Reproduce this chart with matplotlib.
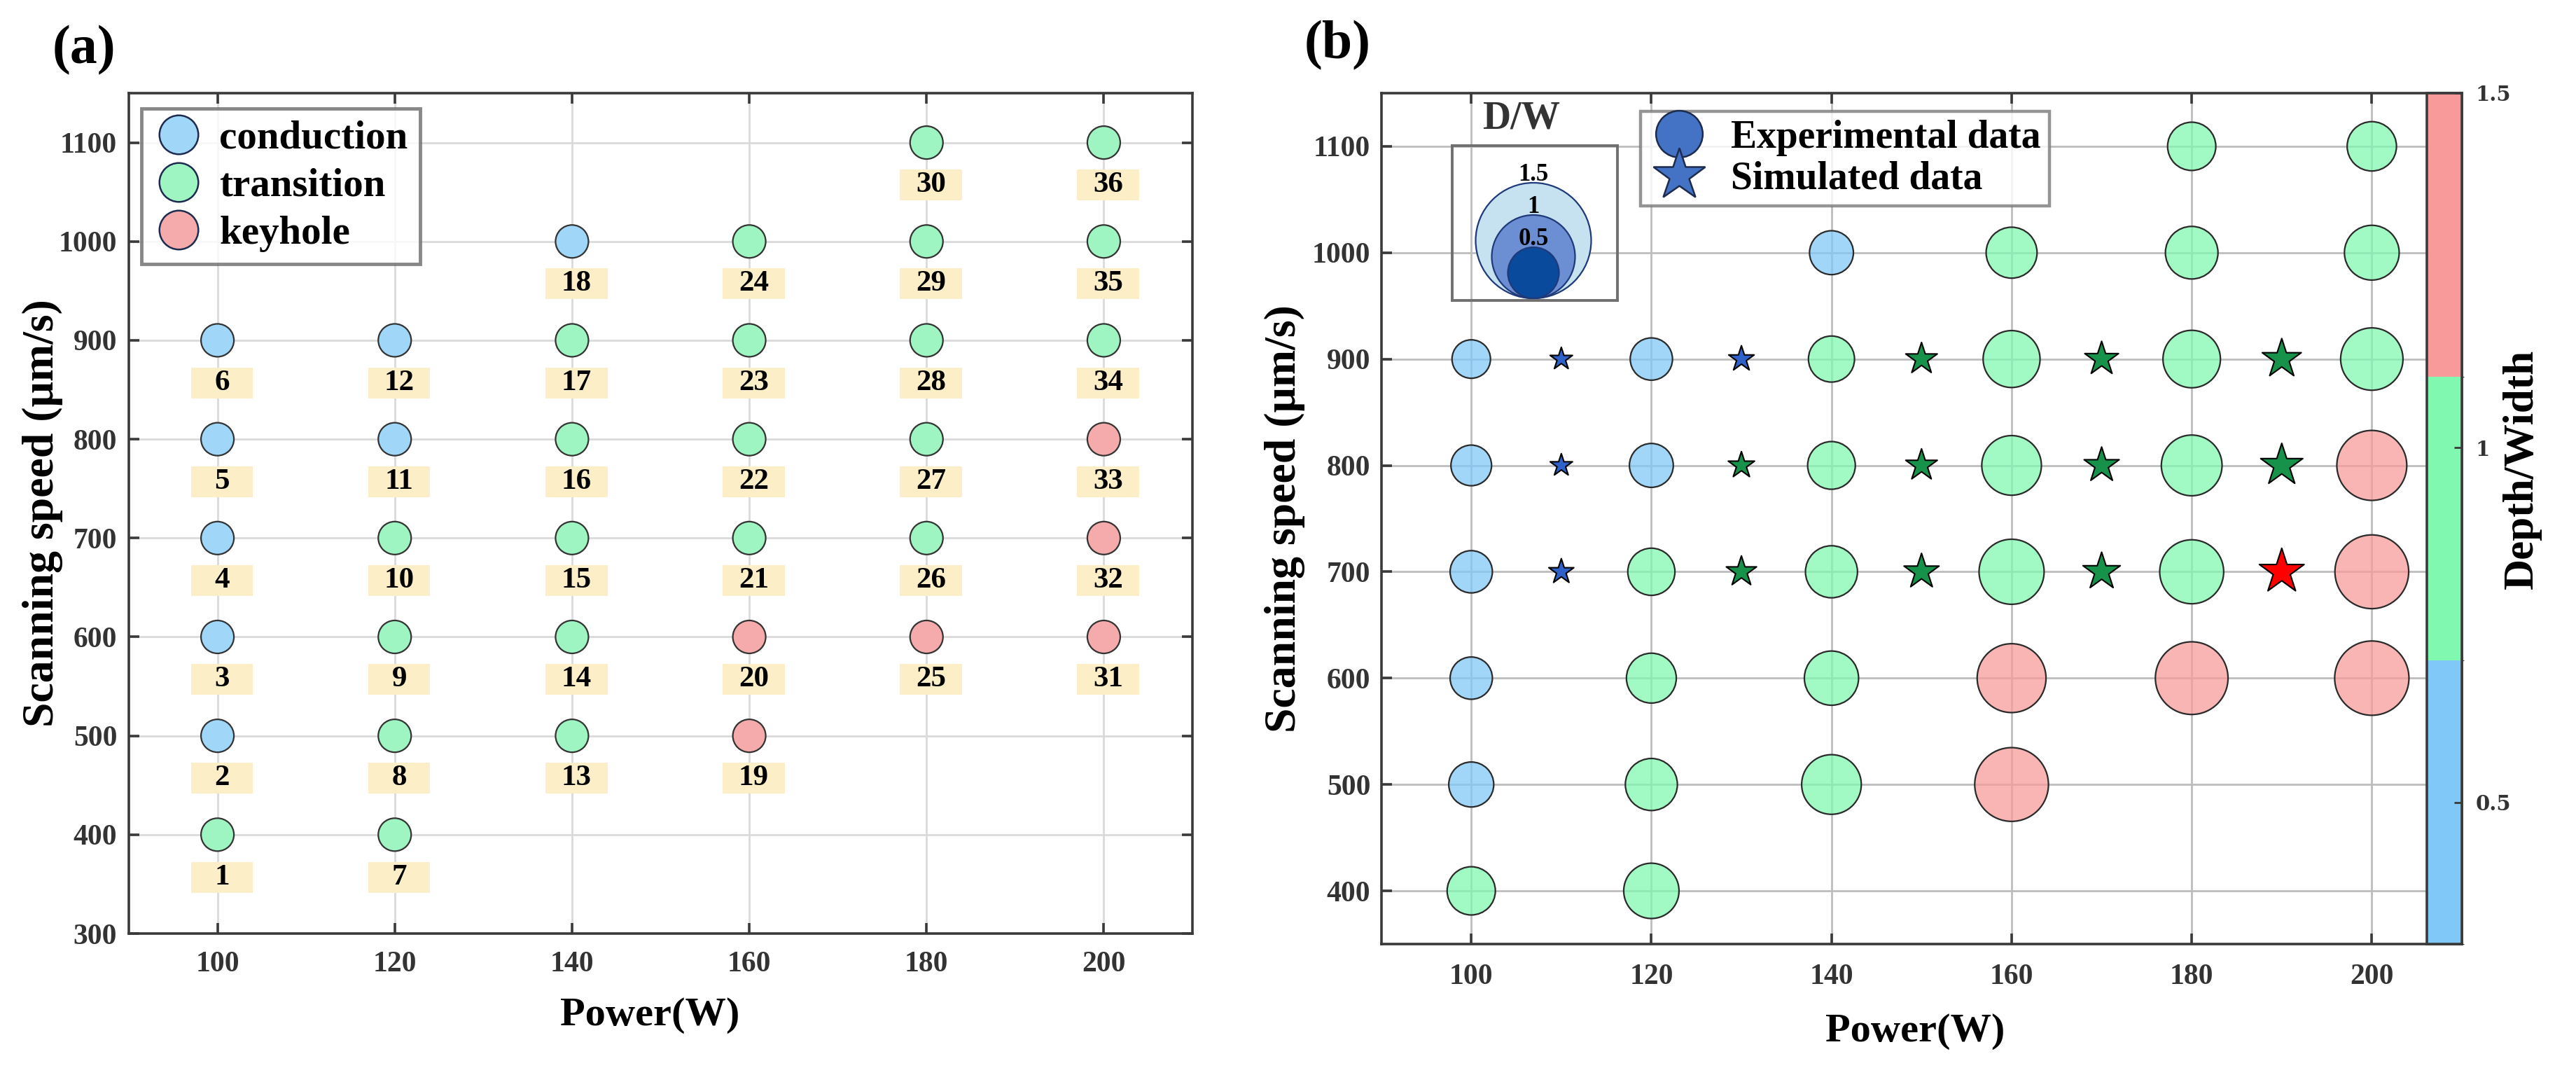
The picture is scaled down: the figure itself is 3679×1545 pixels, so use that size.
import matplotlib
matplotlib.use('Agg')
import matplotlib.pyplot as plt
from matplotlib.colors import ListedColormap, BoundaryNorm, to_rgba
from matplotlib.lines import Line2D
from matplotlib.patches import Circle, Rectangle
import matplotlib.cm as cm

plt.rcParams['font.family'] = ['Liberation Serif', 'DejaVu Serif']
plt.rcParams['font.weight'] = 'bold'

# ---------------- data: panel (a) ----------------
power_a = [100, 100, 100, 100, 100, 100,
           120, 120, 120, 120, 120, 120,
           140, 140, 140, 140, 140, 140,
           160, 160, 160, 160, 160, 160,
           180, 180, 180, 180, 180, 180,
           200, 200, 200, 200, 200, 200]
speed_a = [400, 500, 600, 700, 800, 900,
           400, 500, 600, 700, 800, 900,
           500, 600, 700, 800, 900, 1000,
           500, 600, 700, 800, 900, 1000,
           600, 700, 800, 900, 1000, 1100,
           600, 700, 800, 900, 1000, 1100]
regime_a = ['transition', 'conduction', 'conduction', 'conduction', 'conduction', 'conduction',
            'transition', 'transition', 'transition', 'transition', 'conduction', 'conduction',
            'transition', 'transition', 'transition', 'transition', 'transition', 'conduction',
            'keyhole', 'keyhole', 'transition', 'transition', 'transition', 'transition',
            'keyhole', 'transition', 'transition', 'transition', 'transition', 'transition',
            'keyhole', 'keyhole', 'keyhole', 'transition', 'transition', 'transition']
sample_id = [1, 2, 3, 4, 5, 6, 7, 8, 9, 10, 11, 12, 13, 14, 15, 16, 17, 18,
             19, 20, 21, 22, 23, 24, 25, 26, 27, 28, 29, 30, 31, 32, 33, 34, 35, 36]
regime_names = ['conduction', 'transition', 'keyhole']
regime_colors = {'conduction': '#a0d6f8', 'transition': '#9ff5c2', 'keyhole': '#f5abab'}

# ---------------- data: panel (b) ----------------
exp_power = power_a
exp_speed = speed_a
exp_dw = [0.75, 0.69, 0.64, 0.64, 0.61, 0.57,
          0.88, 0.82, 0.78, 0.73, 0.67, 0.64,
          0.96, 0.86, 0.82, 0.74, 0.71, 0.67,
          1.22, 1.13, 1.06, 0.96, 0.91, 0.80,
          1.20, 1.04, 0.98, 0.92, 0.83, 0.75,
          1.23, 1.22, 1.15, 1.01, 0.87, 0.77]
sim_power = [110, 110, 110, 130, 130, 130, 150, 150, 150, 170, 170, 170, 190, 190, 190]
sim_speed = [700, 800, 900, 700, 800, 900, 700, 800, 900, 700, 800, 900, 700, 800, 900]
sim_dw = [0.68, 0.62, 0.62, 0.80, 0.71, 0.69, 0.91, 0.83, 0.83,
          0.96, 0.91, 0.88, 1.13, 1.07, 1.00]
dw_bounds = [0.3, 0.7, 1.1, 1.5]
dw_ticks = [0.5, 1, 1.5]
legend_dw = [1.5, 1, 0.5]

# ---------------- figure ----------------
W, H = 3679, 1545
fig = plt.figure(figsize=(W / 100, H / 100), dpi=100)

def fx(px):
    return px / W

def fy(py):
    return 1 - py / H

spine_col = '#3a3a3a'
tick_col = '#333333'

def style_axes(ax, grid_col):
    for s in ax.spines.values():
        s.set_linewidth(2.6)
        s.set_color(spine_col)
    ax.grid(True, color=grid_col, lw=2.0)
    ax.set_axisbelow(True)
    ax.tick_params(direction='in', length=11, width=2.6, color=spine_col,
                   labelsize=30, labelcolor=tick_col)
    for lab in ax.get_xticklabels() + ax.get_yticklabels():
        lab.set_fontweight('bold')

# ---------------- panel (a) ----------------
axa = fig.add_axes([fx(184), fy(1333), fx(1703 - 184), (1333 - 133) / H])
axa.set_xlim(90, 210)
axa.set_ylim(300, 1150)
axa.set_xticks([100, 120, 140, 160, 180, 200])
axa.set_yticks([300, 400, 500, 600, 700, 800, 900, 1000, 1100])
style_axes(axa, '#dadada')
axa.tick_params(top=True, right=True, pad=18)
axa.tick_params(axis='y', pad=12)

axa.scatter(power_a, speed_a, s=(47 * 0.72) ** 2,
            c=[regime_colors[r] for r in regime_a],
            edgecolors='#333333', linewidths=1.6, zorder=4)
for p, v, i in zip(power_a, speed_a, sample_id):
    cx, cy = p + 0.5, v - 43
    axa.add_patch(Rectangle((cx - 3.5, cy - 15.6), 7.0, 31.2, fc='#fcefc7',
                            ec='none', zorder=3))
    axa.text(cx, cy, str(i), ha='center', va='center', fontsize=31,
             fontweight='bold', color='black', zorder=5)

handles_a = [Line2D([], [], ls='none', marker='o', markersize=40,
                    mfc=regime_colors[r], mec='#1d2b4f', mew=1.8) for r in regime_names]
lega = axa.legend(handles_a, regime_names, loc='upper left',
                  bbox_to_anchor=(0.012, 0.982), borderaxespad=0,
                  frameon=True, fancybox=False,
                  handlelength=1.25, handletextpad=0.4, labelspacing=0.28,
                  borderpad=0.3, prop={'weight': 'bold', 'size': 41})
lega.get_frame().set_edgecolor('#6a6a6a')
lega.get_frame().set_linewidth(3.5)
lega.set_zorder(10)

axa.set_xlabel('Power(W)', fontsize=42, fontweight='bold')
axa.set_ylabel('Scanning speed (μm/s)', fontsize=46, fontweight='bold')
axa.xaxis.set_label_coords(0.49, -0.0975)
axa.xaxis.label.set_va('center')
axa.yaxis.set_label_coords(-0.081, 0.5)
axa.yaxis.label.set_va('center')

fig.text(fx(120), fy(72), '(a)', ha='center', va='center', fontsize=56,
         fontweight='bold')

# ---------------- panel (b) ----------------
cmap_b = ListedColormap(['#80c8f8', '#80f8b0', '#f89a9a'])
star_cmap = ListedColormap(['#2f62c9', '#17924a', '#ff0000'])
norm_b = BoundaryNorm(dw_bounds, cmap_b.N)

axb = fig.add_axes([fx(1972.6), fy(1348), fx(3516 - 1972.6), (1348 - 133) / H])
axb.set_xlim(90, 210)
axb.set_ylim(350, 1150)
axb.set_xticks([100, 120, 140, 160, 180, 200])
axb.set_yticks([400, 500, 600, 700, 800, 900, 1000, 1100])
style_axes(axb, '#bdbdbd')
axb.tick_params(top=True, right=False, pad=20)
axb.tick_params(axis='y', pad=11)

exp_sizes = [((10.75 + 77.5 * v) * 0.72) ** 2 for v in exp_dw]
exp_fc = [to_rgba(cmap_b(norm_b(v)), 0.74) for v in exp_dw]
axb.scatter(exp_power, exp_speed, s=exp_sizes, c=exp_fc,
            edgecolors='#2a2a2a', linewidths=1.6, zorder=4)

sim_sizes = [(((-6.75 + 62.5 * v) / 0.951) * 0.72) ** 2 for v in sim_dw]
sim_fc = [star_cmap(norm_b(v)) for v in sim_dw]
axb.scatter(sim_power, sim_speed, s=sim_sizes, c=sim_fc, marker='*',
            edgecolors='black', linewidths=1.5, zorder=5)

handles_b = [Line2D([], [], ls='none', marker='o', markersize=48,
                    mfc='#4472c4', mec='#1d2b4f', mew=1.8),
             Line2D([], [], ls='none', marker='*', markersize=56,
                    mfc='#4472c4', mec='#1d2b4f', mew=1.8)]
legb = axb.legend(handles_b, ['Experimental data', 'Simulated data'],
                  loc='upper left', bbox_to_anchor=(0.24, 0.979), borderaxespad=0,
                  frameon=True, fancybox=False, handlelength=1.55,
                  handletextpad=0.55, labelspacing=0.12, borderpad=0.22,
                  prop={'weight': 'bold', 'size': 40})
legb.get_frame().set_edgecolor('#7a7a7a')
legb.get_frame().set_linewidth(3.2)
legb.set_zorder(10)

axb.set_xlabel('Power(W)', fontsize=42, fontweight='bold')
axb.set_ylabel('Scanning speed (μm/s)', fontsize=46, fontweight='bold')
axb.xaxis.set_label_coords(0.494, -0.103)
axb.xaxis.label.set_va('center')
axb.yaxis.set_label_coords(-0.089, 0.5)
axb.yaxis.label.set_va('center')

fig.text(fx(1910), fy(65), '(b)', ha='center', va='center', fontsize=56,
         fontweight='bold')

# colorbar overlaid on right part of panel (b)
cax = fig.add_axes([fx(3466), fy(1348), fx(50), (1348 - 133) / H])
sm = cm.ScalarMappable(norm=norm_b, cmap=cmap_b)
cb = fig.colorbar(sm, cax=cax, ticks=dw_ticks, spacing='proportional')
cb.outline.set_linewidth(2.6)
cb.outline.set_edgecolor(spine_col)
cax.tick_params(direction='in', length=8, width=2, color=spine_col, pad=14)
cax.set_yticklabels(['0.5', '1', '1.5'], fontsize=21, color=tick_col,
                    family='DejaVu Serif', fontweight='bold')
cb.set_label('Depth/Width', fontsize=44, fontweight='bold', rotation=90)
cax.yaxis.set_label_coords(2.72, 0.558)
cax.yaxis.label.set_va('center')

# D/W size legend inset
axi = fig.add_axes([fx(2074), fy(429), fx(236), 221 / H])
axi.set_xlim(0, 236)
axi.set_ylim(0, 221)
axi.patch.set_alpha(0)
axi.set_xticks([])
axi.set_yticks([])
for s in axi.spines.values():
    s.set_linewidth(2.8)
    s.set_color('#707070')
inset_colors = ['#c6e2f0', '#6b8fd2', '#0a4a9c']
for v, col in zip(legend_dw, inset_colors):
    d = 27 + 92 * v
    axi.add_patch(Circle((116, 3 + d / 2), d / 2, fc=col, ec='#1f3a7a', lw=1.6))
    axi.text(116, 3 + d + 11, f'{v:g}', ha='center', va='center',
             fontsize=25, fontweight='bold', color='black')
fig.text(fx(2173), fy(170), 'D/W', ha='center', va='center', fontsize=40,
         fontweight='bold', color='#333333')

fig.savefig('out.png', dpi=100)
